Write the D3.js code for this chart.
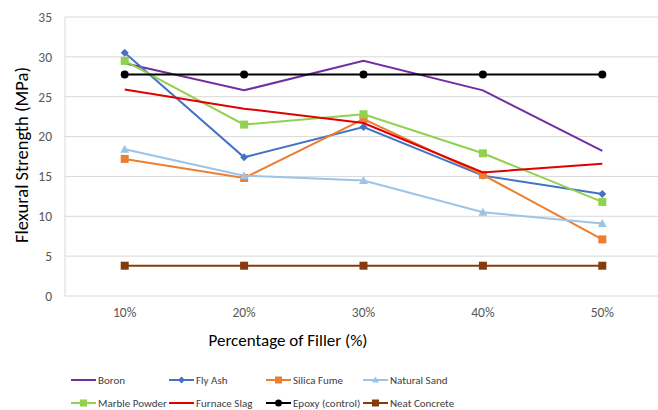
<!DOCTYPE html>
<html><head><meta charset="utf-8">
<script src="https://cdn.jsdelivr.net/npm/d3@7"></script>
<style>body{margin:0;background:#fff}svg{display:block}text{font-family:Calibri,Carlito,"Open Sans","Liberation Sans",sans-serif}</style>
</head><body>
<svg id="c" width="658" height="410"></svg>
<script>
const categories = ["10%","20%","30%","40%","50%"];
const yTicks = [0,5,10,15,20,25,30,35];
const seriesNames = ["Boron","Fly Ash","Silica Fume","Natural Sand","Marble Powder","Furnace Slag","Epoxy (control)","Neat Concrete"];
const boron = [29.2,25.8,29.5,25.8,18.2];
const flyAsh = [30.5,17.4,21.2,15.1,12.8];
const silicaFume = [17.2,14.8,22.2,15.2,7.1];
const naturalSand = [18.4,15.1,14.5,10.5,9.1];
const marblePowder = [29.5,21.5,22.8,17.9,11.8];
const furnaceSlag = [25.9,23.5,21.7,15.5,16.6];
const epoxy = [27.8,27.8,27.8,27.8,27.8];
const neatConcrete = [3.8,3.8,3.8,3.8,3.8];

const values = [boron,flyAsh,silicaFume,naturalSand,marblePowder,furnaceSlag,epoxy,neatConcrete];
const colors = ["#7030a0","#4472c4","#ed7d31","#9dc3e6","#92d050","#e00000","#000000","#843c0c"];
const markers = [null,"diamond","square","triangle","square",null,"circle","square"];

const svg = d3.select("#c");
const L=65, R=662, T=17, B=296;
const x = d3.scaleBand().domain(categories).range([L,R]);
const y = d3.scaleLinear().domain([0,35]).range([B,T]);

svg.append("g").selectAll("line").data(yTicks).join("line")
  .attr("x1",L).attr("x2",R).attr("y1",d=>y(d)).attr("y2",d=>y(d))
  .attr("stroke","#d9d9d9").attr("stroke-width",1);
svg.append("line").attr("x1",L).attr("x2",L).attr("y1",T).attr("y2",B).attr("stroke","#d9d9d9");

const yAxis = d3.axisLeft(y).tickValues(yTicks).tickSize(0).tickPadding(13);
const gy = svg.append("g").attr("transform",`translate(${L},0)`).call(yAxis);
gy.select(".domain").remove();
gy.selectAll("text").attr("fill","#595959").style("font-size","13.5px");

const xAxis = d3.axisBottom(x).tickSize(0).tickPadding(11);
const gx = svg.append("g").attr("transform",`translate(0,${B})`).call(xAxis);
gx.select(".domain").remove();
gx.selectAll("text").attr("fill","#595959").style("font-size","13.5px");

svg.append("text").attr("x",288).attr("y",346).attr("text-anchor","middle")
  .attr("fill","#000").style("font-size","17px").text("Percentage of Filler (%)");
svg.append("text").attr("transform","translate(28,155) rotate(-90)").attr("text-anchor","middle")
  .attr("fill","#000").style("font-size","18.5px").text("Flexural Strength (MPa)");

const cx = c => x(c)+x.bandwidth()/2;
const line = d3.line().x((d,i)=>cx(categories[i])).y(d=>y(d));

function drawMarker(g, type, px, py, col, s){
  if(!type) return;
  if(type==="square") g.append("rect").attr("x",px-s/2).attr("y",py-s/2).attr("width",s).attr("height",s).attr("fill",col);
  else if(type==="circle") g.append("circle").attr("cx",px).attr("cy",py).attr("r",s/2).attr("fill",col);
  else if(type==="diamond") g.append("path").attr("d",`M${px},${py-s/2}L${px+s/2},${py}L${px},${py+s/2}L${px-s/2},${py}Z`).attr("fill",col);
  else if(type==="triangle") g.append("path").attr("d",`M${px},${py-s/2}L${px+s/2},${py+s/2-1}L${px-s/2},${py+s/2-1}Z`).attr("fill",col);
}
const msize = {square:8,circle:8,diamond:8,triangle:9};
values.forEach((vals,si)=>{
  const g = svg.append("g");
  g.append("path").attr("d",line(vals)).attr("fill","none").attr("stroke",colors[si]).attr("stroke-width",2);
  vals.forEach((v,i)=>drawMarker(g,markers[si],cx(categories[i]),y(v),colors[si],msize[markers[si]]));
});

const legX = [71,169,266,363], legY=[380,403];
seriesNames.forEach((n,i)=>{
  const lx = legX[i%4], ly = legY[Math.floor(i/4)];
  const g = svg.append("g");
  g.append("line").attr("x1",lx).attr("x2",lx+25).attr("y1",ly).attr("y2",ly).attr("stroke",colors[i]).attr("stroke-width",2);
  drawMarker(g,markers[i],lx+12.5,ly,colors[i],7);
  g.append("text").attr("x",lx+27).attr("y",ly+4).attr("fill","#404040").style("font-size","11px").text(n);
});
</script>
</body></html>
